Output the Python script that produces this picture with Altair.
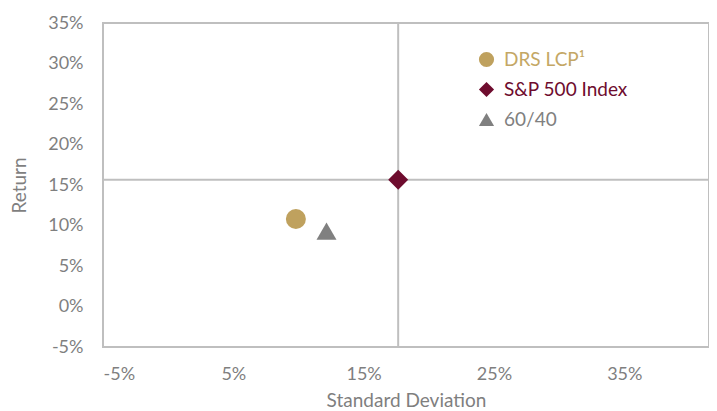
import altair as alt
import pandas as pd

names = ["DRS LCP\u00b9", "S&P 500 Index", "60/40"]
std_dev = [0.098, 0.1765, 0.1215]
returns = [0.108, 0.1565, 0.093]
colors = ["#BFA15E", "#6E0C2E", "#808080"]
shapes = ["circle", "diamond", "triangle-up"]
x_ticks = [-0.05, 0.05, 0.15, 0.25, 0.35]
y_ticks = [-0.05, 0.0, 0.05, 0.10, 0.15, 0.20, 0.25, 0.30, 0.35]

df = pd.DataFrame({"name": names, "sd": std_dev, "ret": returns})
ref = df[df["name"] == "S&P 500 Index"]

FONT = "Lato"
label_expr = "(datum.value < 0 ? '-' : '') + format(abs(datum.value) * 100, '.0f') + '%'"

xscale = alt.Scale(domain=[-0.05, 0.415], nice=False, zero=False)
yscale = alt.Scale(domain=[-0.05, 0.35], nice=False, zero=False)

vline = alt.Chart(ref).mark_rule(color="#BFBFBF", strokeWidth=2).encode(
    x=alt.X("sd:Q", scale=xscale)
)
hline = alt.Chart(ref).mark_rule(color="#BFBFBF", strokeWidth=2).encode(
    y=alt.Y("ret:Q", scale=yscale)
)

label_color = ("datum.label == 'DRS LCP\u00b9' ? '#C4A765' : "
               "(datum.label == 'S&P 500 Index' ? '#6E0C2E' : '#808080')")

points = alt.Chart(df).mark_point(filled=True, size=400, opacity=1).encode(
    x=alt.X("sd:Q", scale=xscale, title="Standard Deviation",
            axis=alt.Axis(values=x_ticks, labelExpr=label_expr, grid=False,
                          ticks=False, domain=False, labelPadding=18,
                          titlePadding=8)),
    y=alt.Y("ret:Q", scale=yscale, title="Return",
            axis=alt.Axis(values=y_ticks, labelExpr=label_expr, grid=False,
                          ticks=False, domain=False, labelPadding=20,
                          titlePadding=18)),
    color=alt.Color("name:N", scale=alt.Scale(domain=names, range=colors),
                    sort=names,
                    legend=alt.Legend(title=None, orient="none", legendX=374,
                                      legendY=27, symbolSize=230,
                                      labelFontSize=19, labelFont=FONT,
                                      labelColor=alt.ExprRef(label_color),
                                      rowPadding=10, labelOffset=8,
                                      symbolStrokeWidth=0)),
    shape=alt.Shape("name:N", scale=alt.Scale(domain=names, range=shapes),
                    sort=names),
)

chart = (vline + hline + points).properties(
    width=606, height=324,
    background="white",
    autosize=alt.AutoSizeParams(type="none"),
    padding={"left": 95, "top": 15, "right": 0, "bottom": 68},
).configure_view(
    stroke="#BFBFBF", strokeWidth=2
).configure_axis(
    labelFont=FONT, titleFont=FONT, labelFontSize=18, titleFontSize=19,
    labelColor="#7F7F7F", titleColor="#7F7F7F", titleFontWeight="normal"
)

chart.save("out.html", embed_options={"renderer": "svg", "actions": False})
